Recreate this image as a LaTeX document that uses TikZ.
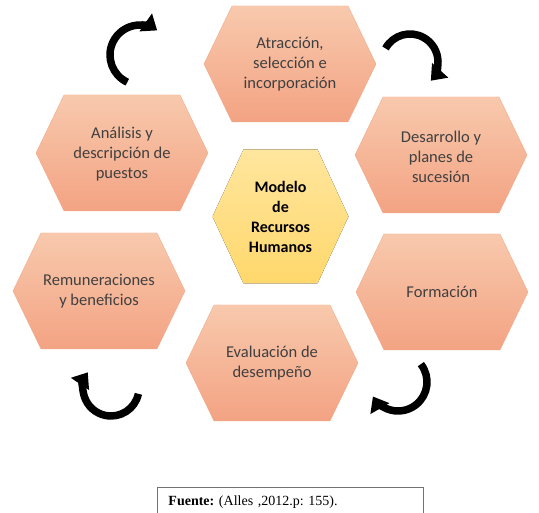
\documentclass[tikz,border=0pt]{standalone}
\usepackage{fontspec}
\setmainfont{Carlito}
\newfontfamily\timesfont{Liberation Serif}
\usetikzlibrary{arrows.meta,calc}
\definecolor{pescaalto}{HTML}{F8C9AD}
\definecolor{pescabasso}{HTML}{F3A383}
\definecolor{pescabordo}{HTML}{F2AA8A}
\definecolor{oroalto}{HTML}{FFE69E}
\definecolor{orobasso}{HTML}{FFD86C}
\definecolor{testo}{HTML}{404040}
\begin{document}
\begin{tikzpicture}[x=1pt, y=1pt,
    esag/.style={top color=pescaalto, bottom color=pescabasso, draw=pescabordo, line width=0.4pt},
    esagc/.style={top color=oroalto, bottom color=orobasso},
    etichetta/.style={align=center, text=testo, font=\fontsize{16.5}{20}\selectfont},
    freccia/.style={line width=7.5pt, -{Triangle[width=21pt,length=14pt]}}]
        \useasboundingbox (0,0) rectangle (539,513);
        %esagoni esterni
        \draw[esag] (204,449)--++ (28,58)--++ (116,0)--++ (28,-58)--++ (-28,-58)--++ (-116,0)-- cycle;
        \draw[esag] (355,358)--++ (28,58)--++ (116,0)--++ (28,-58)--++ (-28,-58)--++ (-116,0)-- cycle;
        \draw[esag] (356,221)--++ (28,58)--++ (116,0)--++ (28,-58)--++ (-28,-58)--++ (-116,0)-- cycle;
        \draw[esag] (186,150)--++ (28,58)--++ (116,0)--++ (28,-58)--++ (-28,-58)--++ (-116,0)-- cycle;
        \draw[esag] (13,222)--++ (28,58)--++ (116,0)--++ (28,-58)--++ (-28,-58)--++ (-116,0)-- cycle;
        \draw[esag] (36,360)--++ (28,58)--++ (116,0)--++ (28,-58)--++ (-28,-58)--++ (-116,0)-- cycle;
        %esagono centrale
        \fill[esagc] (212.5,296.5)--++ (31,67)--++ (74,0)--++ (31,-67)--++ (-31,-67)--++ (-74,0)-- cycle;
        %testi
        \node[etichetta] (atr) at (290,449) {Atracción,\\selección e\\incorporación};
        \node[etichetta] (des) at (441,356) {Desarrollo y\\planes de\\sucesión};
        \node[etichetta] (for) at (442,221) {Formación};
        \node[etichetta] (eva) at (272,150) {Evaluación de\\desempeño};
        \node[etichetta] (rem) at (99,222) {Remuneraciones\\y beneficios};
        \node[etichetta] (ana) at (122,359) {Análisis y\\descripción de\\puestos};
        \node[etichetta, text=black, font=\bfseries\fontsize{16}{20}\selectfont] (mod) at (280.5,296.5) {Modelo\\de\\Recursos\\Humanos};
        %frecce
        \coordinate (f1) at ($(140,458)+(245:30)$);
        \coordinate (f2) at ($(410,451)+(151:28)$);
        \coordinate (f3) at ($(398,131)+(38:29)$);
        \coordinate (f4) at ($(111,125)+(-12:28)$);
        \draw[freccia] (f1) arc[start angle=245, end angle=55, radius=30];
        \draw[freccia] (f2) arc[start angle=151, end angle=-42, radius=28];
        \draw[freccia] (f3) arc[start angle=38, end angle=-150, radius=29];
        \draw[freccia] (f4) arc[start angle=-12, end angle=-214, radius=28];
        %fonte
        \node[draw=black!55, line width=0.9pt, anchor=north west, text width=244pt, align=left,
              inner xsep=11pt, inner ysep=8pt, text height=10pt, text depth=3pt,
              font=\timesfont\fontsize{14}{16}\selectfont\frenchspacing] (fonte) at (157,26) {\textbf{Fuente:} (Alles ,2012.p: 155).};
\end{tikzpicture}
\end{document}
